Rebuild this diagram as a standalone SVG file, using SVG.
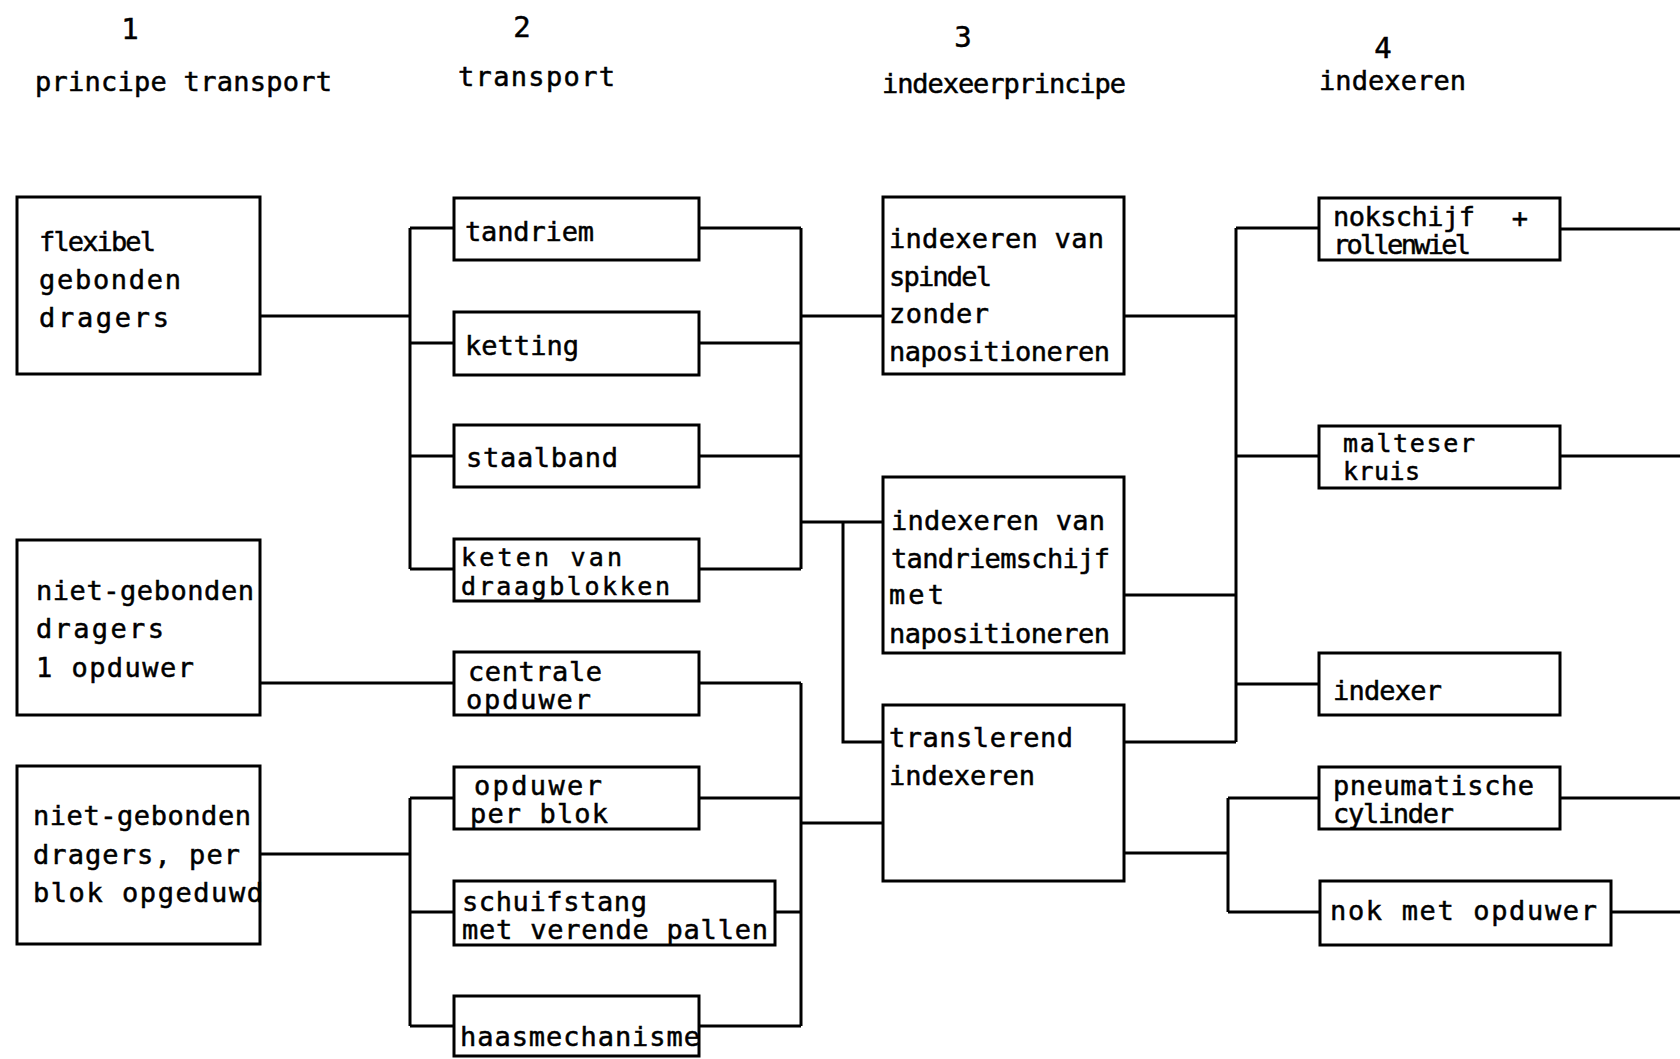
<svg xmlns="http://www.w3.org/2000/svg" width="1680" height="1059" viewBox="0 0 1680 1059">
<style>
.box{fill:#fff;stroke:#000;stroke-width:3}
.ln{fill:none;stroke:#000;stroke-width:3}
text{font-family:"DejaVu Sans Mono","Liberation Mono",monospace;font-size:27px;fill:#000;stroke:#000;stroke-width:0.5}
.num{font-size:29px;text-anchor:middle}
.tight{font-size:25px}
</style>
<rect width="1680" height="1059" fill="#fff"/>
<g id="headers">
<text class="num" x="130" y="39">1</text>
<text x="35" y="91" textLength="297">principe transport</text>
<text class="num" x="522" y="37">2</text>
<text x="458" y="86" textLength="157">transport</text>
<text class="num" x="963" y="47">3</text>
<text x="882" y="93" textLength="244">indexeerprincipe</text>
<text class="num" x="1383" y="58">4</text>
<text x="1319" y="90" textLength="147">indexeren</text>
</g>
<g id="connectors">
<path class="ln" d="M260 316H410M410 228V569M410 228H454M410 343H454M410 456H454M410 569H454"/>
<path class="ln" d="M260 683H454"/>
<path class="ln" d="M260 854H410M410 798V1026M410 798H454M410 912H454M410 1026H454"/>
<path class="ln" d="M699 228H801M699 343H801M699 456H801M699 569H801M801 228V569M801 316H883M801 522H883M843 522V742H883"/>
<path class="ln" d="M699 683H801M801 683V1026M699 798H801M775 912H801M699 1026H801M801 823H883"/>
<path class="ln" d="M1124 316H1236M1236 228V742M1236 228H1319M1236 456H1319M1236 684H1319M1124 595H1236M1124 742H1236"/>
<path class="ln" d="M1124 853H1228M1228 798V912M1228 798H1319M1228 912H1320"/>
<path class="ln" d="M1560 229H1680M1560 456H1680M1560 798H1680M1611 912H1680"/>
</g>
<g id="n-flexibel"><rect class="box" x="17" y="197" width="243" height="177"/>
<text x="39" y="251" textLength="117">flexibel</text><text x="39" y="289" textLength="142">gebonden</text><text x="39" y="327" textLength="130">dragers</text></g>
<g id="n-niet-gebonden-1"><rect class="box" x="17" y="540" width="243" height="175"/>
<text x="36" y="600" textLength="218">niet-gebonden</text><text x="36" y="638" textLength="128">dragers</text><text x="36" y="677" textLength="158">1 opduwer</text></g>
<g id="n-niet-gebonden-2"><rect class="box" x="17" y="766" width="243" height="178"/>
<text x="33" y="825" textLength="218">niet-gebonden</text><text x="33" y="864" textLength="207">dragers, per</text><text x="33" y="902" textLength="230">blok opgeduwd</text></g>
<g id="n-tandriem"><rect class="box" x="454" y="198" width="245" height="62"/><text x="465" y="241" textLength="129">tandriem</text></g>
<g id="n-ketting"><rect class="box" x="454" y="312" width="245" height="63"/><text x="465" y="355" textLength="114">ketting</text></g>
<g id="n-staalband"><rect class="box" x="454" y="425" width="245" height="62"/><text x="466" y="467" textLength="152">staalband</text></g>
<g id="n-keten"><rect class="box" x="454" y="539" width="245" height="62"/><text class="tight" x="461" y="566" textLength="161">keten van</text><text class="tight" x="461" y="595" textLength="209">draagblokken</text></g>
<g id="n-centrale"><rect class="box" x="454" y="652" width="245" height="63"/><text x="468" y="681" textLength="134">centrale</text><text x="466" y="709" textLength="125">opduwer</text></g>
<g id="n-opduwer-blok"><rect class="box" x="454" y="767" width="245" height="62"/><text x="474" y="795" textLength="128">opduwer</text><text x="470" y="823" textLength="138">per blok</text></g>
<g id="n-schuifstang"><rect class="box" x="454" y="881" width="321" height="64"/><text x="462" y="911" textLength="185">schuifstang</text><text x="462" y="939" textLength="306">met verende pallen</text></g>
<g id="n-haas"><rect class="box" x="454" y="996" width="245" height="60"/><text x="460" y="1046" textLength="240">haasmechanisme</text></g>
<g id="n-spindel"><rect class="box" x="883" y="197" width="241" height="177"/>
<text x="889" y="248" textLength="215">indexeren van</text><text x="889" y="286" textLength="103">spindel</text><text x="889" y="323" textLength="100">zonder</text><text x="889" y="361" textLength="221">napositioneren</text></g>
<g id="n-tandriemschijf"><rect class="box" x="883" y="477" width="241" height="176"/>
<text x="891" y="530" textLength="214">indexeren van</text><text x="891" y="568" textLength="219">tandriemschijf</text><text x="889" y="604" textLength="55">met</text><text x="889" y="643" textLength="221">napositioneren</text></g>
<g id="n-translerend"><rect class="box" x="883" y="705" width="241" height="176"/>
<text x="889" y="747" textLength="184">translerend</text><text x="889" y="785" textLength="146">indexeren</text></g>
<g id="n-nokschijf"><rect class="box" x="1319" y="198" width="241" height="62"/>
<text x="1333" y="226" textLength="142">nokschijf</text><text x="1520" y="227" text-anchor="middle">+</text><text x="1333" y="254" textLength="138">rollenwiel</text></g>
<g id="n-malteser"><rect class="box" x="1319" y="426" width="241" height="62"/><text class="tight" x="1343" y="452" textLength="132">malteser</text><text class="tight" x="1343" y="480" textLength="77">kruis</text></g>
<g id="n-indexer"><rect class="box" x="1319" y="653" width="241" height="62"/><text x="1333" y="700" textLength="109">indexer</text></g>
<g id="n-pneumatische"><rect class="box" x="1319" y="767" width="241" height="62"/><text x="1333" y="795" textLength="201">pneumatische</text><text x="1333" y="823" textLength="121">cylinder</text></g>
<g id="n-nok-opduwer"><rect class="box" x="1320" y="881" width="291" height="64"/><text x="1330" y="920" textLength="267">nok met opduwer</text></g>
</svg>
